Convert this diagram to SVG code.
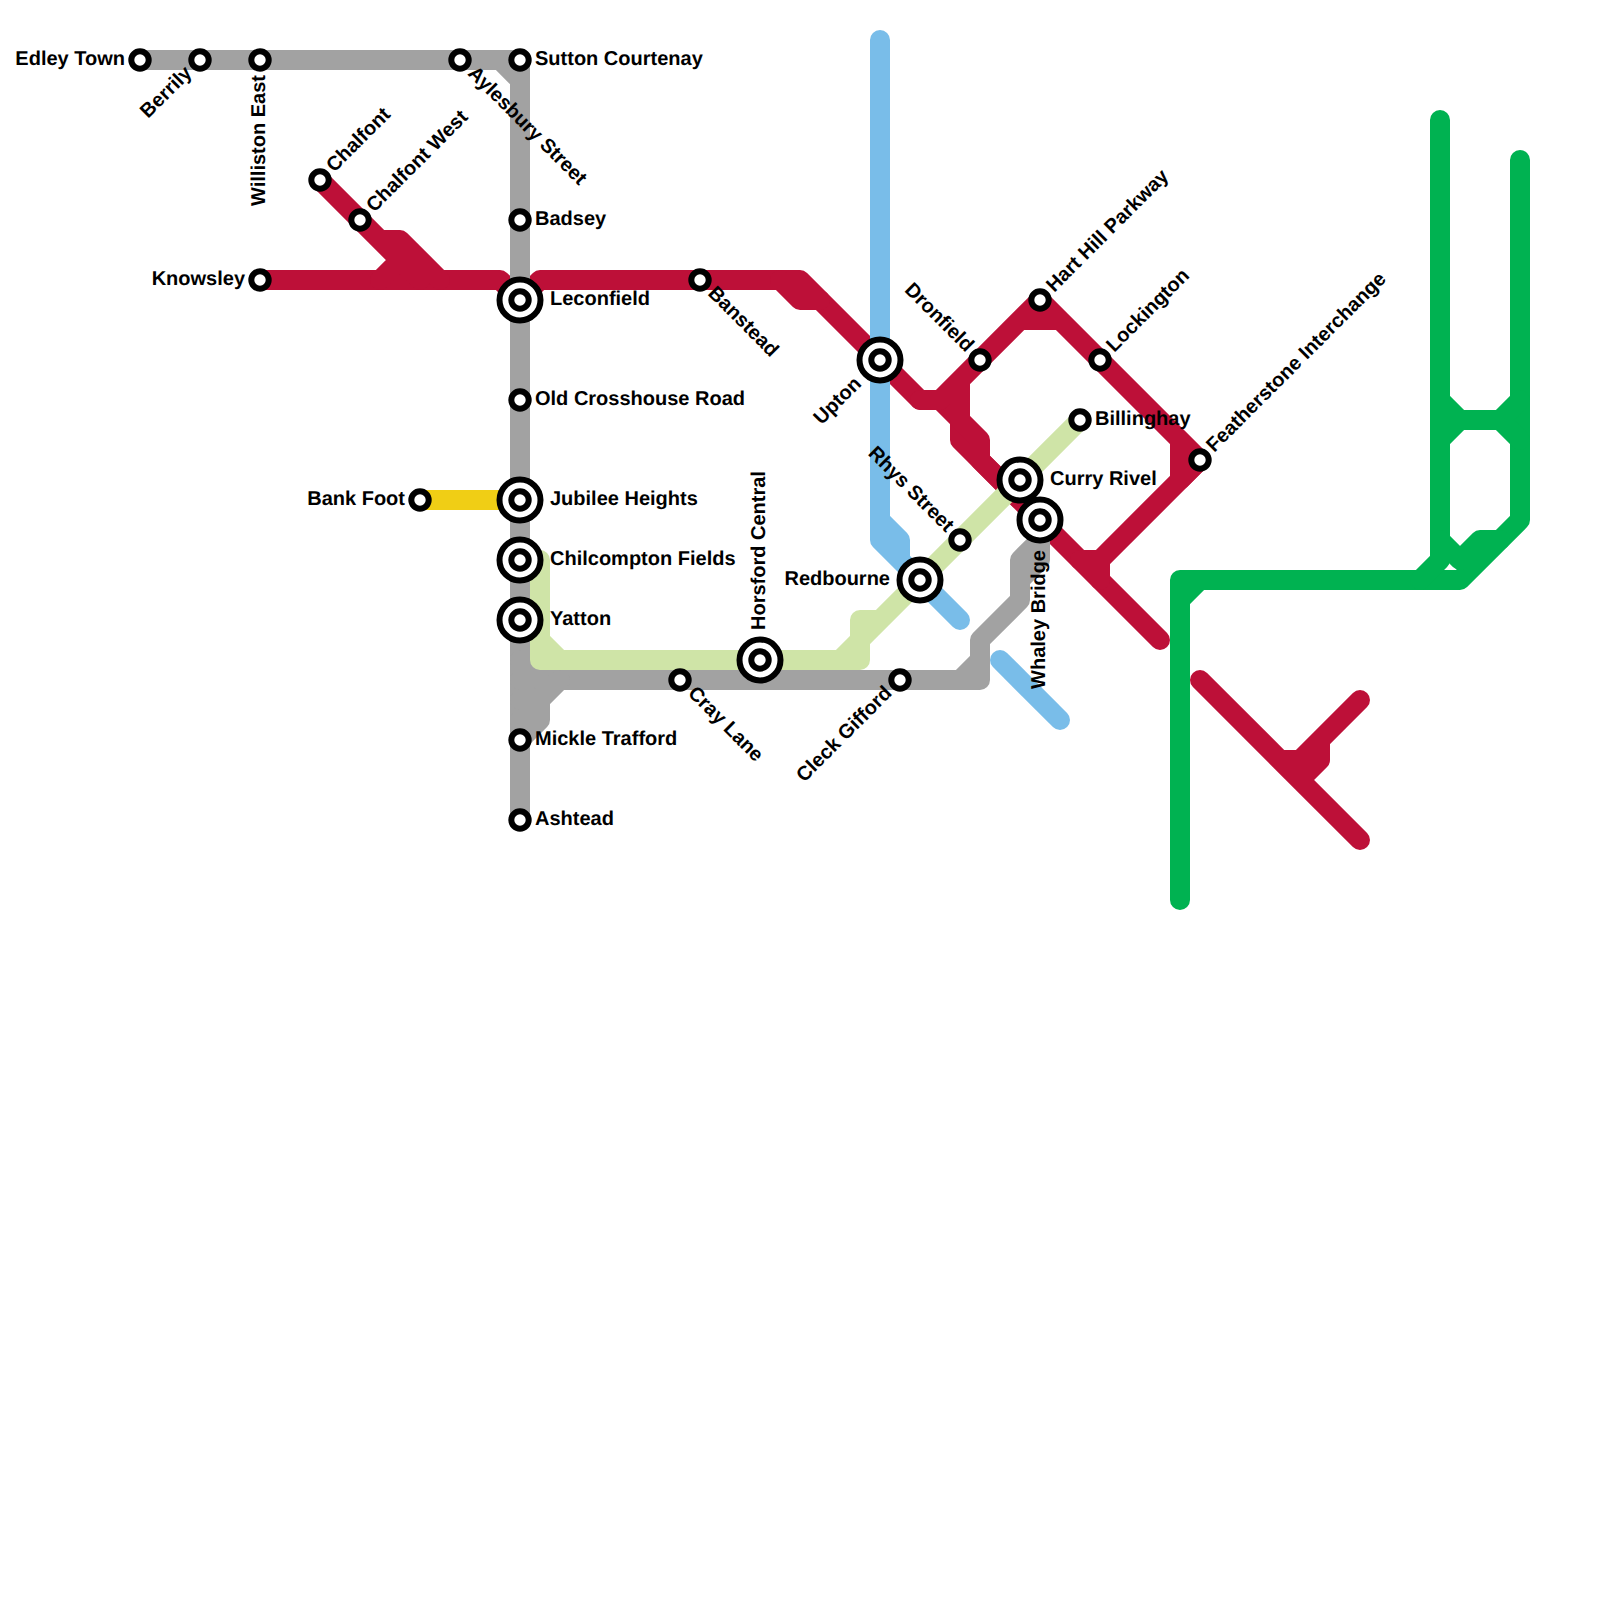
<svg xmlns="http://www.w3.org/2000/svg" width="1600" height="1600" viewBox="0 0 1600 1600">
<style>
.l{fill:none;stroke-width:20;stroke-linecap:round;stroke-linejoin:round}
.red{stroke:#bd1038}.gray{stroke:#a2a2a2}.blue{stroke:#79bde9}.lime{stroke:#cfe4a7}.yellow{stroke:#f0ce15}.green{stroke:#00b251}
.s,.i,.c{fill:#fff;stroke:#000;stroke-width:6}
text{font-family:"Liberation Sans",Arial,sans-serif;font-weight:bold;font-size:20px;fill:#000;text-rendering:geometricPrecision}
.e{text-anchor:end}
</style>
<g id="connectors">
<path class="l red" d="M260 280H500L520 300L540 280H800L880 360L920 400H940L960 420V440L1040 520L1160 640"/>
<path class="l red" d="M320 180L420 280M380 240H400L440 280M400 260L380 280"/>
<path class="l red" d="M780 280L800 300H820"/>
<path class="l red" d="M920 400H940L1040 300L1200 460L1180 480V440M1020 320H1060M960 380V420L980 440V460L1020 500"/>
<path class="l red" d="M1200 460L1100 560H1080M1100 560V580"/>
<path class="l red" d="M1200 680L1360 840M1360 700L1300 760H1280M1320 740V760L1300 780"/>
<path class="l blue" d="M880 40V540L960 620M880 520L900 540V560"/>
<path class="l blue" d="M1000 660L1060 720"/>
<path class="l gray" d="M140 60H520V820M500 60L520 80"/>
<path class="l gray" d="M520 680H980V640L1020 600V560L1040 540V520V560L1020 580M960 680L980 660"/>
<path class="l gray" d="M560 680L540 700V720L520 740M520 700H540M520 720H540M520 660L540 680"/>
<path class="l lime" d="M520 560H540V660H860V640L1080 420M540 640L560 660M840 660L860 640V620H880"/>
<path class="l yellow" d="M420 500H520"/>
<path class="l green" d="M1180 900V580H1460L1520 520V160M1180 600L1200 580"/>
<path class="l green" d="M1440 120V560L1420 580M1440 400L1460 420H1500L1520 400M1440 440L1460 420M1500 420L1520 440"/>
<path class="l green" d="M1440 540L1460 560L1480 540H1500"/>
</g>
<g id="edley-town"><circle class="s" cx="140" cy="60" r="8.7"/><text class="e" x="125" y="65">Edley Town</text></g>
<g id="berrily"><circle class="s" cx="200" cy="60" r="8.7"/><text class="e" transform="translate(200 60) rotate(-45)" x="-15" y="5">Berrily</text></g>
<g id="williston-east"><circle class="s" cx="260" cy="60" r="8.7"/><text class="e" transform="translate(260 60) rotate(-90)" x="-15" y="5">Williston East</text></g>
<g id="aylesbury-street"><circle class="s" cx="460" cy="60" r="8.7"/><text transform="translate(460 60) rotate(45)" x="15" y="5">Aylesbury Street</text></g>
<g id="sutton-courtenay"><circle class="s" cx="520" cy="60" r="8.7"/><text x="535" y="65">Sutton Courtenay</text></g>
<g id="chalfont"><circle class="s" cx="320" cy="180" r="8.7"/><text transform="translate(320 180) rotate(-45)" x="15" y="5">Chalfont</text></g>
<g id="chalfont-west"><circle class="s" cx="360" cy="220" r="8.7"/><text transform="translate(360 220) rotate(-45)" x="15" y="5">Chalfont West</text></g>
<g id="badsey"><circle class="s" cx="520" cy="220" r="8.7"/><text x="535" y="225">Badsey</text></g>
<g id="knowsley"><circle class="s" cx="260" cy="280" r="8.7"/><text class="e" x="245" y="285">Knowsley</text></g>
<g id="leconfield"><circle class="i" cx="520" cy="300" r="20.5"/><circle class="c" cx="520" cy="300" r="8.7"/><text x="550" y="305">Leconfield</text></g>
<g id="banstead"><circle class="s" cx="700" cy="280" r="8.7"/><text transform="translate(700 280) rotate(45)" x="15" y="5">Banstead</text></g>
<g id="upton"><circle class="i" cx="880" cy="360" r="20.5"/><circle class="c" cx="880" cy="360" r="8.7"/><text class="e" transform="translate(880 360) rotate(-45)" x="-30" y="5">Upton</text></g>
<g id="dronfield"><circle class="s" cx="980" cy="360" r="8.7"/><text class="e" transform="translate(980 360) rotate(45)" x="-15" y="5">Dronfield</text></g>
<g id="hart-hill-parkway"><circle class="s" cx="1040" cy="300" r="8.7"/><text transform="translate(1040 300) rotate(-45)" x="15" y="5">Hart Hill Parkway</text></g>
<g id="lockington"><circle class="s" cx="1100" cy="360" r="8.7"/><text transform="translate(1100 360) rotate(-45)" x="15" y="5">Lockington</text></g>
<g id="old-crosshouse-road"><circle class="s" cx="520" cy="400" r="8.7"/><text x="535" y="405">Old Crosshouse Road</text></g>
<g id="billinghay"><circle class="s" cx="1080" cy="420" r="8.7"/><text x="1095" y="425">Billinghay</text></g>
<g id="featherstone-interchange"><circle class="s" cx="1200" cy="460" r="8.7"/><text transform="translate(1200 460) rotate(-45)" x="15" y="5">Featherstone Interchange</text></g>
<g id="curry-rivel"><circle class="i" cx="1020" cy="480" r="20.5"/><circle class="c" cx="1020" cy="480" r="8.7"/><text x="1050" y="485">Curry Rivel</text></g>
<g id="bank-foot"><circle class="s" cx="420" cy="500" r="8.7"/><text class="e" x="405" y="505">Bank Foot</text></g>
<g id="jubilee-heights"><circle class="i" cx="520" cy="500" r="20.5"/><circle class="c" cx="520" cy="500" r="8.7"/><text x="550" y="505">Jubilee Heights</text></g>
<g id="whaley-bridge"><circle class="i" cx="1040" cy="520" r="20.5"/><circle class="c" cx="1040" cy="520" r="8.7"/><text class="e" transform="translate(1040 520) rotate(-90)" x="-30" y="5">Whaley Bridge</text></g>
<g id="rhys-street"><circle class="s" cx="960" cy="540" r="8.7"/><text class="e" transform="translate(960 540) rotate(45)" x="-15" y="5">Rhys Street</text></g>
<g id="chilcompton-fields"><circle class="i" cx="520" cy="560" r="20.5"/><circle class="c" cx="520" cy="560" r="8.7"/><text x="550" y="565">Chilcompton Fields</text></g>
<g id="redbourne"><circle class="i" cx="920" cy="580" r="20.5"/><circle class="c" cx="920" cy="580" r="8.7"/><text class="e" x="890" y="585">Redbourne</text></g>
<g id="yatton"><circle class="i" cx="520" cy="620" r="20.5"/><circle class="c" cx="520" cy="620" r="8.7"/><text x="550" y="625">Yatton</text></g>
<g id="horsford-central"><circle class="i" cx="760" cy="660" r="20.5"/><circle class="c" cx="760" cy="660" r="8.7"/><text transform="translate(760 660) rotate(-90)" x="30" y="5">Horsford Central</text></g>
<g id="cray-lane"><circle class="s" cx="680" cy="680" r="8.7"/><text transform="translate(680 680) rotate(45)" x="15" y="5">Cray Lane</text></g>
<g id="cleck-gifford"><circle class="s" cx="900" cy="680" r="8.7"/><text class="e" transform="translate(900 680) rotate(-45)" x="-15" y="5">Cleck Gifford</text></g>
<g id="mickle-trafford"><circle class="s" cx="520" cy="740" r="8.7"/><text x="535" y="745">Mickle Trafford</text></g>
<g id="ashtead"><circle class="s" cx="520" cy="820" r="8.7"/><text x="535" y="825">Ashtead</text></g>
</svg>
